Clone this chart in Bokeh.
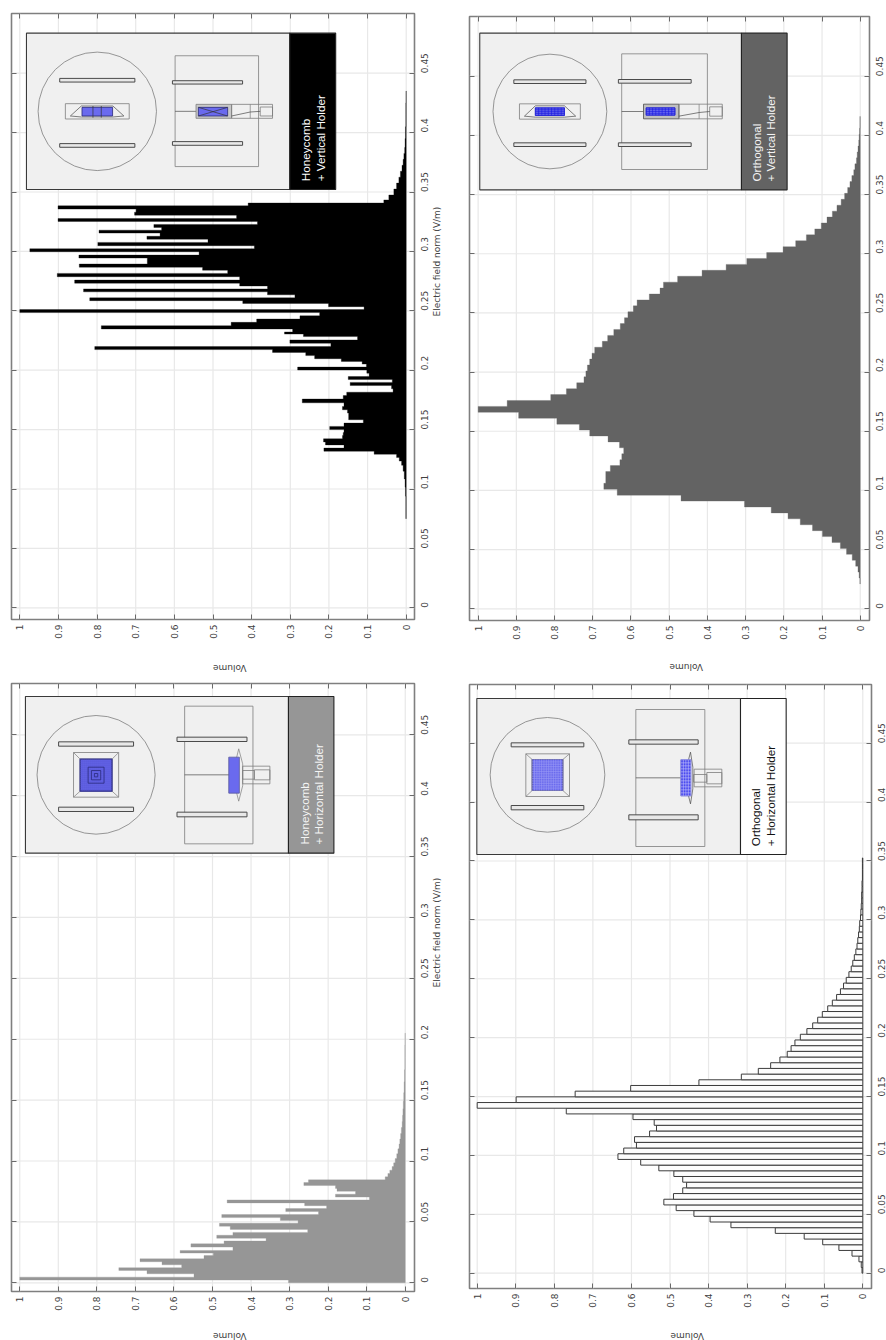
from math import pi
import numpy as np
from bokeh.embed import file_html
from bokeh.layouts import column, row
from bokeh.models import FixedTicker, LinearAxis, Range1d
from bokeh.core.properties import value
from bokeh.plotting import figure
from bokeh.resources import INLINE

# ---------- data ----------
field_ticks = [0, 0.05, 0.1, 0.15, 0.2, 0.25, 0.3, 0.35, 0.4, 0.45]
field_labels = ["0", "0.05", "0.1", "0.15", "0.2", "0.25", "0.3", "0.35", "0.4", "0.45"]
volume_ticks = [0, 0.1, 0.2, 0.3, 0.4, 0.5, 0.6, 0.7, 0.8, 0.9, 1]
volume_labels = ["0", "0.1", "0.2", "0.3", "0.4", "0.5", "0.6", "0.7", "0.8", "0.9", "1"]

# Honeycomb + Vertical Holder
hv_field = [.080, .090, .098, .105, .112, .118, .122, .125, .128,
            .1305, .133, .1359, .1384, .1409, .1437, .1465, .1487, .1513, .1541, .1569, .1597, .1625, .1653,
            .1681, .1709, .1742, .1773, .1801, .1829, .1857, .1885, .191, .1933, .1961, .1989, .2014, .2039,
            .2064, .2084, .2109, .2137, .2162, .2185, .2213, .2241, .2269, .2297, .2311, .2333, .2361, .2389,
            .2417, .2445, .2471, .2499, .2521, .2549, .2574, .2597, .2622, .2647, .2672, .2697, .272, .2745,
            .2773, .2801, .2829, .2854, .288, .2908, .2933, .2955, .2983, .3011, .3034, .3062, .309, .3115,
            .314, .3168, .319, .3213, .3241, .3263, .3291, .3319, .3342, .337, .3398,
            .3417, .345, .35, .355, .36, .365, .37, .375, .38, .385, .39, .40, .41, .42, .43]
hv_volume = [.001, .001, .002, .003, .005, .008, .012, .018, .025,
             .083, .213, .161, .209, .214, .165, .163, .161, .198, .161, .111, .149, .149, .152,
             .165, .161, .269, .163, .154, .034, .038, .145, .036, .15, .096, .102, .281, .103,
             .114, .168, .237, .26, .346, .806, .195, .301, .126, .266, .315, .294, .789, .453,
             .387, .275, .224, 1.0, .109, .201, .423, .819, .288, .359, .835, .359, .431, .858,
             .431, .903, .462, .527, .846, .67, .67, .847, .536, .974, .393, .798, .513, .671,
             .637, .795, .633, .653, .385, .901, .439, .703, .699, .901, .409,
             .058, .045, .032, .025, .019, .015, .011, .008, .006, .004, .003, .002, .001, .001, .0005]

# Honeycomb + Horizontal Holder
hh_field = [.0011, .0033, .006, .0088, .0115, .0134, .0162, .0184, .0211, .0236, .0252, .0279, .0307,
            .0334, .0353, .0378, .0403, .0425, .0452, .0477, .0499, .0523, .0548, .0573, .0597, .0622,
            .0644, .0668, .0693, .0715, .074, .0764, .0786, .0811, .0836, .0855,
            .0885, .091, .094, .097, .100, .104, .108, .112, .116, .12, .125, .13, .135, .14, .146, .152,
            .16, .17, .18, .19, .20]
hh_volume = [.303, 1.0, .548, .67, .743, .58, .631, .688, .522, .498, .584, .447, .556,
             .47, .361, .489, .447, .253, .454, .482, .278, .324, .476, .225, .31, .204,
             .261, .462, .093, .181, .129, .177, .181, .263, .251, .052,
             .045, .04, .034, .03, .026, .022, .019, .016, .014, .012, .01, .008, .007, .006, .005, .004,
             .003, .002, .001, .001, .0005]

# Orthogonal + Vertical Holder
ov_first_edge = 0.021
ov_bin = 0.005
ov_volume = [.001, .003, .006, .012, .021, .036, .052, .074, .099, .125, .157, .189, .233, .303, .469,
             .636, .671, .666, .666, .654, .629, .624, .619, .63, .66, .708, .735, .794, .894, 1.0,
             .924, .81, .769, .742, .723, .718, .714, .708, .702, .695, .675, .661, .645, .628, .617,
             .608, .594, .584, .552, .524, .515, .478, .414, .351, .297, .245, .202, .169, .141, .119,
             .102, .087, .073, .061, .05, .041, .033, .027, .022, .017, .014, .01, .008, .006, .004,
             .003, .002, .001, .001]

# Orthogonal + Horizontal Holder
oh_first_edge = 0.0
oh_bin = 0.00483
oh_volume = [.002, .004, .01, .028, .062, .104, .152, .227, .342, .396, .438, .484, .516, .491, .467,
             .457, .467, .49, .529, .576, .635, .62, .587, .592, .553, .535, .541, .596, .769, 1.0,
             .899, .746, .602, .425, .315, .271, .239, .215, .196, .186, .176, .162, .145, .13, .117,
             .105, .091, .079, .068, .058, .05, .043, .036, .03, .026, .022, .018, .015, .013, .011,
             .009, .008, .006, .005, .004, .003, .003, .002, .002, .001, .001, .001, .001]

volume_title = "Volume"
field_title = "Electric field norm (V/m)"

# ---------- styling ----------
FONT = "DejaVu Sans"
GRID = "#e8e8e8"
FRAME = "#7f7f7f"
TICK = "#6a6a6a"
TICKTXT = "#404040"
DRAW = "#7d7d7d"
DARK = "#4a4a4a"
BLUE = "#6a6aee"
INSET_BG = "#f0f0f0"


def edges(centres):
    c = np.asarray(centres, dtype=float)
    mid = (c[1:] + c[:-1]) / 2
    return np.r_[c[0] - (mid[0] - c[0]), mid], np.r_[mid, c[-1] + (c[-1] - mid[-1])]


def stair(p, lo, hi, vol, colour):
    """One stepped outline per histogram, so that neighbouring bins show no seam."""
    xs, ys = [0.0], [float(lo[0])]
    for a_, b_, v_ in zip(lo, hi, vol):
        xs += [v_, v_]
        ys += [float(a_), float(b_)]
    xs.append(0.0)
    ys.append(float(hi[-1]))
    p.patch(xs, ys, fill_color=colour, line_color=colour, line_width=0.3)


def panel(fig_w, fig_h, left, right, top, bottom, ox, oy, fx0, fx1, fy0, fy1,
          v1_px, v0_px, f0_px, f45_px, vol_gap, field_standoff, field_gap=None):
    """fx/fy: frame edges in page pixels; v*_px / f*_px: where the ticks sit."""
    vs = v0_px - v1_px
    fs = (f0_px - f45_px) / 0.45
    xr = Range1d((v0_px - fx0) / vs, (v0_px - fx1) / vs)
    yr = Range1d((f0_px - fy1) / fs, (f0_px - fy0) / fs)
    p = figure(width=fig_w, height=fig_h, x_range=xr, y_range=yr, toolbar_location=None,
               output_backend="svg", min_border_left=left, min_border_right=right,
               min_border_top=top, min_border_bottom=bottom, x_axis_location=None,
               y_axis_location=None, background_fill_color="white", border_fill_color="white")
    p.extra_x_ranges["px"] = Range1d((fx0 - ox) * 3, (fx1 - ox) * 3)
    p.extra_y_ranges["px"] = Range1d((fy1 - oy) * 3, (fy0 - oy) * 3)
    p.outline_line_color = FRAME
    p.outline_line_width = 1.6

    def mk(ticks, labels, show):
        ax = LinearAxis(ticker=FixedTicker(ticks=ticks),
                        major_label_overrides=dict(zip(ticks, labels)) if show else {},
                        major_tick_in=5, major_tick_out=0, minor_tick_line_color=None,
                        major_tick_line_color=TICK, major_tick_line_width=1,
                        axis_line_color=None,
                        major_label_text_font=FONT)
        if show:
            ax.major_label_text_font_size = "9px"
            ax.major_label_text_color = TICKTXT
            ax.major_label_orientation = pi / 2
            ax.major_label_standoff = 5
            ax.axis_label_text_font = FONT
            ax.axis_label_text_font_size = "9px"
            ax.axis_label_text_font_style = "normal"
            ax.axis_label_text_color = TICKTXT
        else:
            ax.major_label_text_font_size = "0px"
            ax.major_label_text_color = None
            ax.major_label_standoff = 0
        return ax

    below = mk(volume_ticks, volume_labels, True)
    below.axis_label = volume_title
    below.axis_label_orientation = pi
    below.axis_label_standoff = vol_gap
    p.add_layout(below, "below")
    p.add_layout(mk(volume_ticks, volume_labels, False), "above")
    right_ax = mk(field_ticks, field_labels, True)
    right_ax.major_label_standoff = field_standoff
    if field_gap is not None:
        right_ax.axis_label = field_title
        right_ax.axis_label_orientation = pi / 2
        right_ax.axis_label_standoff = field_gap
    p.add_layout(right_ax, "right")
    p.add_layout(mk(field_ticks, field_labels, False), "left")
    p.xgrid.visible = False
    p.ygrid.visible = False
    # grid drawn from the same tick lists
    p.segment(x0=volume_ticks, x1=volume_ticks, y0=[yr.start] * len(volume_ticks),
              y1=[yr.end] * len(volume_ticks), line_color=GRID, line_width=1.2)
    p.segment(x0=[xr.start] * len(field_ticks), x1=[xr.end] * len(field_ticks), y0=field_ticks,
              y1=field_ticks, line_color=GRID, line_width=1.2)
    return p


def R(p, x0, x1, y0, y1, fill=None, line=DRAW, w=0.8):
    p.quad(left=[x0], right=[x1], top=[y0], bottom=[y1], fill_color=fill, line_color=line, line_width=w,
           x_range_name="px", y_range_name="px")


def L(p, xs, ys, line=DRAW, w=0.7):
    p.line(xs, ys, line_color=line, line_width=w, x_range_name="px", y_range_name="px")


def P(p, xs, ys, fill=None, line=DRAW, w=0.7):
    p.patch(xs, ys, fill_color=fill if fill else "#f0f0f0", line_color=line, line_width=w,
            x_range_name="px", y_range_name="px")


def C(p, x, y, r):
    p.ellipse(x=[x], y=[y], width=[2 * r], height=[2 * r], fill_color=None, line_color=DRAW,
              line_width=0.8, x_range_name="px", y_range_name="px")


def T(p, x, y, txt, color):
    p.text(x=[x], y=[y], text=[txt], angle=pi / 2, text_align="left", text_baseline="middle",
           text_color=color, text_font=value("Liberation Sans"), text_font_size="11.7px",
           x_range_name="px", y_range_name="px")


def inset_box(p, x0, xt, x1, y0, y1, tab, lines, tx, ty, tcol):
    R(p, x0, xt, y0, y1, fill=INSET_BG, line="#3a3a3a", w=1.1)
    R(p, xt, x1, y0, y1, fill=tab, line="#222222", w=1.1)
    T(p, tx[0], ty, lines[0], tcol)
    T(p, tx[1], ty, lines[1], tcol)


def bars2(p, x0, x1, ys):
    for a_, b_ in ys:
        R(p, x0, x1, a_, b_, fill="#e8e8e8", line=DARK, w=1)


def mesh(p, x0, x1, y0, y1, n, m, col):
    for i in range(n + 1):
        xx = x0 + (x1 - x0) * i / n
        L(p, [xx, xx], [y0, y1], line=col, w=0.6)
    for j in range(m + 1):
        yy = y0 + (y1 - y0) * j / m
        L(p, [x0, x1], [yy, yy], line=col, w=0.6)


# ---------- Honeycomb + Vertical ----------
a = panel(453, 680, 10, 39, 13, 60, 0, 0, 10, 414, 13, 620, 18.3, 405.7, 608.3, 72.8, 26, 10, 2)
lo, hi = edges(hv_field)
stair(a, lo, hi, hv_volume, "black")
inset_box(a, 75, 867, 1005, 98, 568, "black", ["Honeycomb", "+ Vertical Holder"], (915, 958), 543, "white")
C(a, 288, 333, 178)
bars2(a, 175, 401, [(234, 245), (430, 441)])
R(a, 192, 384, 310, 356)
P(a, [207, 240, 335, 368, 335, 240], [347, 317, 317, 347, 350, 350], line=DARK)
R(a, 242, 334, 321, 347, fill=BLUE, line="#2a2a7a")
for xx in (275, 300):
    L(a, [xx, xx], [317, 352], line="#333333")
R(a, 522, 773, 166, 499)
bars2(a, 514, 725, [(241, 251), (424, 435)])
L(a, [522, 590], [333, 333], line=DARK)
R(a, 585, 692, 312, 354, fill="#c8c8c8", line=DRAW)
R(a, 592, 680, 321, 347, fill=BLUE, line="#2a2a7a")
L(a, [592, 680], [321, 347], line="#333333")
L(a, [592, 680], [347, 321], line="#333333")
R(a, 692, 815, 312, 354)
L(a, [748, 748], [312, 354])
R(a, 778, 815, 320, 347)
L(a, [692, 748, 778], [347, 335, 333], line=DARK)

# ---------- Honeycomb + Horizontal ----------
c = panel(453, 673, 11, 37, 3, 62, 0, 670, 11, 416, 683, 1291, 19.3, 406.7, 1282.3, 734.3, 22, 10, 2)
lo, hi = edges(hh_field)
stair(c, lo, hi, hh_volume, "#969696")
inset_box(c, 75, 868, 1005, 78, 548, "#969696", ["Honeycomb", "+ Horizontal Holder"], (915, 958), 522, "#f4f4f4")
C(c, 288, 313, 178)
bars2(c, 175, 401, [(214, 227), (410, 423)])
R(c, 220, 356, 246, 380)
for sx, sy, tx2, ty2 in ((220, 246, 240, 266), (356, 246, 336, 266), (220, 380, 240, 362), (356, 380, 336, 362)):
    L(c, [sx, tx2], [sy, ty2])
R(c, 240, 336, 266, 362, fill=BLUE, line="#1c1c50", w=1.3)
mesh(c, 240, 336, 266, 362, 16, 16, "#5555d5")
R(c, 264, 312, 290, 338, line="#2a2a7a")
R(c, 274, 302, 300, 328, line="#2a2a7a")
R(c, 283, 293, 309, 319, line="#2a2a7a")
R(c, 555, 761, 107, 520)
bars2(c, 532, 743, [(200, 213), (425, 439)])
L(c, [555, 720], [313, 313], line=DARK)
P(c, [712, 718, 730, 730, 718, 712], [260, 235, 280, 346, 392, 368], line=DRAW)
R(c, 688, 720, 260, 368, fill=BLUE, line="#5a5a9a")
R(c, 730, 812, 287, 340)
R(c, 730, 765, 300, 326)
R(c, 765, 812, 298, 328)

# ---------- Orthogonal + Vertical ----------
b = panel(438, 680, 13, 22, 16, 60, 443, 0, 466, 869, 16, 620, 474.7, 859.7, 608.3, 75.7, 24, 10)
k = np.arange(len(ov_volume))
stair(b, ov_first_edge + k * ov_bin, ov_first_edge + (k + 1) * ov_bin, ov_volume, "#636363")
inset_box(b, 100, 891, 1029, 98, 568, "#636363", ["Orthogonal", "+ Vertical Holder"], (935, 980), 543, "#f4f4f4")
C(b, 312, 333, 172)
bars2(b, 203, 421, [(238, 249), (427, 438)])
R(b, 220, 404, 310, 356)
P(b, [235, 268, 356, 390, 356, 268], [347, 316, 316, 347, 350, 350], line=DARK)
R(b, 268, 356, 322, 345, fill="#5f5fe8", line="#3030c0")
mesh(b, 268, 356, 322, 345, 9, 4, "#1a1ae0")
R(b, 529, 788, 160, 507)
bars2(b, 519, 739, [(237, 248), (427, 438)])
L(b, [529, 595], [333, 333], line=DARK)
R(b, 595, 702, 311, 355, fill="#c0c0c0", line=DARK)
R(b, 603, 690, 322, 344, fill="#6a6af0", line="#3030c0")
mesh(b, 603, 690, 322, 344, 9, 4, "#1a1ae0")
R(b, 702, 833, 311, 355)
L(b, [763, 763], [311, 355])
R(b, 795, 833, 319, 347)
L(b, [702, 763, 795], [347, 336, 333], line=DARK)

# ---------- Orthogonal + Horizontal ----------
d = panel(440, 670, 16, 22, 4, 62, 443, 670, 469, 871, 684, 1288, 476.7, 862.3, 1272.7, 742.7, 25, 10)
k = np.arange(len(oh_volume))
d.quad(left=0, right=oh_volume, bottom=oh_first_edge + k * oh_bin, top=oh_first_edge + (k + 1) * oh_bin,
       fill_color="#fcfcfc", line_color="#3c3c3c", line_width=1)
inset_box(d, 100, 891, 1028, 84, 552, "white", ["Orthogonal", "+ Horizontal Holder"], (935, 980), 527, "#111111")
C(d, 312, 313, 172)
bars2(d, 203, 421, [(217, 229), (405, 418)])
R(d, 247, 378, 250, 378)
for sx, sy, tx2, ty2 in ((247, 250, 266, 267), (378, 250, 358, 267), (247, 378, 266, 360), (378, 378, 358, 360)):
    L(d, [sx, tx2], [sy, ty2])
R(d, 266, 358, 267, 360, fill=BLUE, line="#33335a", w=1.2)
mesh(d, 266, 358, 267, 360, 13, 13, "#9a9af5")
R(d, 577, 784, 117, 528)
bars2(d, 556, 764, [(208, 221), (433, 448)])
L(d, [577, 712], [322, 322], line=DARK)
P(d, [735, 741, 748, 748, 741, 735], [268, 245, 290, 355, 400, 376], line=DARK)
R(d, 712, 742, 268, 376, fill="#4a4af0", line="#3333c0")
mesh(d, 712, 742, 268, 376, 4, 12, "#c4c4fb")
R(d, 752, 835, 296, 349)
R(d, 750, 790, 312, 335)
R(d, 790, 835, 306, 340)

layout = row(column(a, c, spacing=0), column(b, d, spacing=0), spacing=0)
html = file_html(layout, INLINE)
html = html.replace("</head>", "<style>html,body{overflow:hidden}</style></head>", 1)
open("out.html", "w").write(html)
